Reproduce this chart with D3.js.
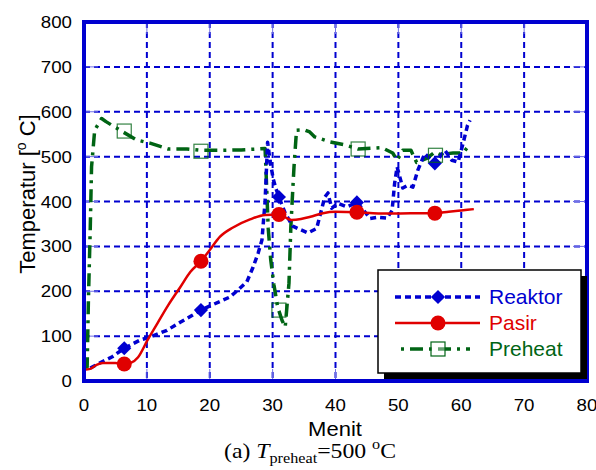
<!DOCTYPE html>
<html><head><meta charset="utf-8">
<script src="https://cdn.jsdelivr.net/npm/d3@7"></script>
<style>body{margin:0;background:#fff}svg{display:block}</style>
</head><body>
<svg id="c" width="596" height="470"></svg>
<script>
// ---- data ----
const xTicks = [0,10,20,30,40,50,60,70,80];
const yTicks = [0,100,200,300,400,500,600,700,800];

const reaktorT = [1,2.5,4.5,6.4,8.9,10.5,13.2,15.3,17.3,18.6,20.3,23.2,24.5,25.9,26.9,27.7,28.3,28.8,29.2,29.6,30.1,30.5,31,32,33.2,34.3,35.6,37,38.3,38.8,39.4,40.4,41.8,43.4,44.5,45.5,46.8,48.2,49,49.4,49.8,50.7,51.5,52.3,53.1,54.2,55.8,57.4,58.5,59.5,60.3,61,61.4];
const reaktorV = [29,40,54,73,91,98,113,131,147,158,169,187,203,221,254,285,314,400,532,490,450,430,410,374,345,338,330,340,410,419,385,396,388,398,380,362,365,363,380,440,477,430,436,432,470,507,485,514,492,488,530,570,581];

const pasirT = [0,1,2,3,5,6.4,7.5,8.6,10.1,11.7,13.4,15.3,16.9,18.6,20,21.6,23.7,26.4,28.8,31,33,34.5,36,38,40,43.4,46,48.6,52,55.8,58,60,62];
const pasirV = [25,27,36,40,40,38,41,53,91,129,169,209,243,267,292,321,342,360,370,371,359,361,366,374,377,376,374,373,374,374,377,380,383];

const preheatT = [0,0.5,0.7,1,1.2,1.7,2.8,3.5,5,6.2,8.4,10.5,13.4,16.4,18.6,22,25,28.8,29.0,29.3,29.7,30.2,30.8,31.5,32,32.6,32.9,33.2,33.4,33.8,35,35.9,36.7,39.1,41.5,43.6,47.4,49.1,49.8,50.7,52,52.9,54.5,55.8,56.6,58.7,60.3,61];
const preheatV = [30,31,180,343,477,559,585,578,565,555,537,530,517,517,514,514,515,518,450,340,270,215,165,135,120,218,344,425,477,559,560,555,544,533,526,517,520,508,492,514,514,487,496,510,505,508,508,521];

const reaktorMarkT = [6.4,18.6,31,43.4,55.8];
const reaktorMarkV = [73,158,410,398,485];
const pasirMarkT = [6.4,18.6,31,43.4,55.8];
const pasirMarkV = [38,267,371,376,374];
const preheatMarkT = [6.4,18.6,31,43.6,55.9];
const preheatMarkV = [557,512,158,517,503];

const seriesNames = ["Reaktor","Pasir","Preheat"];

// ---- layout ----
const svg = d3.select("#c");
const L=84, R=587, T=22, B=381;
const x = d3.scaleLinear().domain([0,80]).range([L,R]);
const y = d3.scaleLinear().domain([0,800]).range([B,T]);
const BLUE="#0000d0", RED="#e00000", GREEN="#006414";

// grid
const g = svg.append("g");
g.selectAll(".vg").data(xTicks.slice(1,-1)).enter().append("line")
  .attr("x1",d=>x(d)).attr("x2",d=>x(d)).attr("y1",T).attr("y2",B)
  .attr("stroke",BLUE).attr("stroke-width",2).attr("stroke-dasharray","6,4");
g.selectAll(".hg").data(yTicks.slice(1,-1)).enter().append("line")
  .attr("y1",d=>y(d)).attr("y2",d=>y(d)).attr("x1",L).attr("x2",R)
  .attr("stroke",BLUE).attr("stroke-width",2).attr("stroke-dasharray","6,4");

// inner light ticks
const tk = svg.append("g").attr("stroke","#7070e8").attr("stroke-width",1);
xTicks.slice(1,-1).forEach(d=>{
  tk.append("line").attr("x1",x(d)).attr("x2",x(d)).attr("y1",B).attr("y2",B-12);
  tk.append("line").attr("x1",x(d)).attr("x2",x(d)).attr("y1",T).attr("y2",T+12);
});
yTicks.slice(1,-1).forEach(d=>{
  tk.append("line").attr("x1",L).attr("x2",L+14).attr("y1",y(d)).attr("y2",y(d));
  tk.append("line").attr("x1",R).attr("x2",R-14).attr("y1",y(d)).attr("y2",y(d));
});

// lines
const mk = (ts,vs)=>ts.map((t,i)=>[t,vs[i]]);
const lineLin = d3.line().x(d=>x(d[0])).y(d=>y(d[1]));
const lineSmooth = d3.line().x(d=>x(d[0])).y(d=>y(d[1])).curve(d3.curveMonotoneX);

svg.append("path").datum(mk(preheatT,preheatV)).attr("d",lineLin)
  .attr("fill","none").attr("stroke",GREEN).attr("stroke-width",3.5)
  .attr("stroke-dasharray","13,6,3,6").attr("stroke-linejoin","round");
svg.append("path").datum(mk(reaktorT,reaktorV)).attr("d",lineLin)
  .attr("fill","none").attr("stroke",BLUE).attr("stroke-width",3.5)
  .attr("stroke-dasharray","6,4").attr("stroke-linejoin","round");
svg.append("path").datum(mk(pasirT,pasirV)).attr("d",lineSmooth)
  .attr("fill","none").attr("stroke",RED).attr("stroke-width",2.5);

// markers
const diamond = d3.symbol().type(d3.symbolSquare).size(100);
svg.selectAll(".dm").data(mk(reaktorMarkT,reaktorMarkV)).enter().append("path")
  .attr("d",diamond()).attr("fill",BLUE)
  .attr("transform",d=>`translate(${x(d[0])},${y(d[1])}) rotate(45)`);
svg.selectAll(".cm").data(mk(pasirMarkT,pasirMarkV)).enter().append("circle")
  .attr("cx",d=>x(d[0])).attr("cy",d=>y(d[1])).attr("r",7.5).attr("fill",RED);
svg.selectAll(".sm").data(mk(preheatMarkT,preheatMarkV)).enter().append("rect")
  .attr("x",d=>x(d[0])-7).attr("y",d=>y(d[1])-7).attr("width",14).attr("height",14)
  .attr("fill","none").attr("stroke",GREEN).attr("stroke-width",1.2).attr("opacity",0.8);

// frame
svg.append("rect").attr("x",L).attr("y",T).attr("width",R-L).attr("height",B-T)
  .attr("fill","none").attr("stroke",BLUE).attr("stroke-width",4);

// tick labels
const font="'Liberation Sans', Arial, sans-serif";
svg.selectAll(".yl").data(yTicks).enter().append("text")
  .attr("transform",d=>`translate(72,${y(d)+6}) scale(1.1,1)`).attr("text-anchor","end")
  .attr("font-family",font).attr("font-size",17).attr("fill","#000").text(d=>d);
svg.selectAll(".xl").data(xTicks).enter().append("text")
  .attr("transform",d=>`translate(${x(d)},411) scale(1.1,1)`).attr("text-anchor","middle")
  .attr("font-family",font).attr("font-size",17).attr("fill","#000").text(d=>d);

// axis titles
svg.append("text").attr("transform","translate(335,436) scale(1.1,1)").attr("text-anchor","middle")
  .attr("font-family",font).attr("font-size",20).text("Menit");
const yt = svg.append("text").attr("transform","translate(35,194) rotate(-90)")
  .attr("text-anchor","middle").attr("font-family",font).attr("font-size",22);
yt.append("tspan").text("Temperatur [");
yt.append("tspan").attr("font-size",14).attr("dy",-9).text("o");
yt.append("tspan").attr("dy",9).text(" C]");

// caption
const cap = svg.append("text").attr("transform","translate(310,458) scale(1.08,1)").attr("text-anchor","middle")
  .attr("font-family","'Liberation Serif','Times New Roman',serif").attr("font-size",22);
cap.append("tspan").text("(a) ");
cap.append("tspan").attr("font-style","italic").text("T");
cap.append("tspan").attr("font-size",15).attr("dy",5).text("preheat");
cap.append("tspan").attr("dy",-5).text("=500 ");
cap.append("tspan").attr("font-size",15).attr("dy",-9).text("o");
cap.append("tspan").attr("dy",9).text("C");

// legend
const lx=378, ly=270, lw=203, lh=103;
svg.append("rect").attr("x",lx+6).attr("y",ly+6).attr("width",lw).attr("height",lh).attr("fill","#000");
svg.append("rect").attr("x",lx).attr("y",ly).attr("width",lw).attr("height",lh)
  .attr("fill","#fff").attr("stroke","#000").attr("stroke-width",1.5);
const legY = [297,323,349];
const legCol = [BLUE,RED,GREEN];
const lg = svg.append("g");
// Reaktor
lg.append("line").attr("x1",395).attr("x2",480).attr("y1",legY[0]).attr("y2",legY[0])
  .attr("stroke",BLUE).attr("stroke-width",3.5).attr("stroke-dasharray","6,4");
lg.append("path").attr("d",diamond()).attr("fill",BLUE).attr("transform",`translate(438,${legY[0]}) rotate(45)`);
// Pasir
lg.append("line").attr("x1",395).attr("x2",480).attr("y1",legY[1]).attr("y2",legY[1])
  .attr("stroke",RED).attr("stroke-width",2.5);
lg.append("circle").attr("cx",438).attr("cy",legY[1]).attr("r",7.5).attr("fill",RED);
// Preheat
lg.append("line").attr("x1",401).attr("x2",470).attr("y1",legY[2]).attr("y2",legY[2])
  .attr("stroke",GREEN).attr("stroke-width",3.5).attr("stroke-dasharray","3,6,13,6");
lg.append("rect").attr("x",431).attr("y",legY[2]-7).attr("width",14).attr("height",14)
  .attr("fill","#fff").attr("fill-opacity",0.4).attr("stroke",GREEN).attr("stroke-width",1.2);
seriesNames.forEach((n,i)=>{
  lg.append("text").attr("transform",`translate(489,${legY[i]+7}) scale(1.05,1)`).attr("font-family",font)
    .attr("font-size",20).attr("fill",legCol[i]).text(n);
});
</script>
</body></html>
